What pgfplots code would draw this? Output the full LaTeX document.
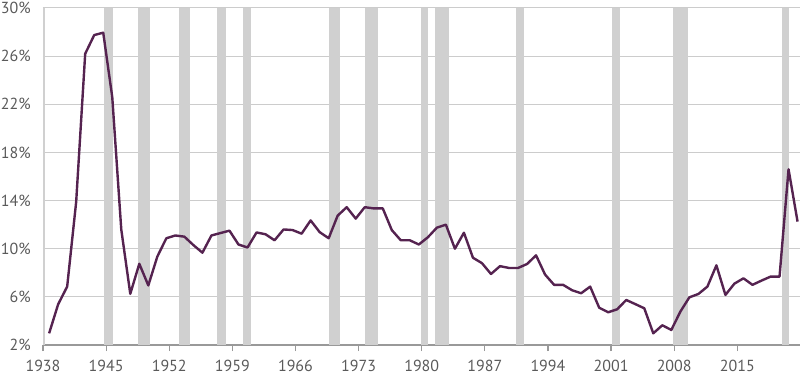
\documentclass[border=0pt]{standalone}
\usepackage{pgfplots}
\pgfplotsset{compat=1.18}
\usepackage{pgfplotstable}
\usepackage{fontspec}
\setmainfont{PT Sans}
\definecolor{linepurple}{HTML}{552350}
\definecolor{recgray}{HTML}{D0D0D0}
\definecolor{gridgray}{HTML}{CCCCCC}
\definecolor{axisgray}{HTML}{999999}
\definecolor{labelgray}{HTML}{5A5A5A}
\pgfplotstableread{
year rate
1938 2.97
1939 5.38
1940 6.85
1941 13.9
1942 26.2
1943 27.75
1944 27.95
1945 22.6
1946 11.6
1947 6.25
1948 8.75
1949 6.95
1950 9.35
1951 10.87
1952 11.1
1953 11.0
1954 10.3
1955 9.67
1956 11.1
1957 11.3
1958 11.5
1959 10.35
1960 10.1
1961 11.35
1962 11.2
1963 10.7
1964 11.6
1965 11.55
1966 11.25
1967 12.35
1968 11.38
1969 10.87
1970 12.75
1971 13.45
1972 12.5
1973 13.45
1974 13.35
1975 13.35
1976 11.55
1977 10.7
1978 10.7
1979 10.35
1980 10.95
1981 11.75
1982 12.0
1983 10.0
1984 11.33
1985 9.25
1986 8.8
1987 7.9
1988 8.55
1989 8.4
1990 8.4
1991 8.73
1992 9.45
1993 7.85
1994 7.0
1995 7.0
1996 6.55
1997 6.3
1998 6.85
1999 5.1
2000 4.72
2001 4.97
2002 5.74
2003 5.4
2004 5.05
2005 2.97
2006 3.64
2007 3.25
2008 4.77
2009 5.96
2010 6.24
2011 6.85
2012 8.62
2013 6.16
2014 7.1
2015 7.54
2016 7.0
2017 7.35
2018 7.68
2019 7.68
2020 16.6
2021 12.25
}\savingdata
\begin{document}
\begin{tikzpicture}
\begin{axis}[
  at={(0,0)}, anchor=south west,
  scale only axis, width=757bp, height=337bp,
  xmin=1938, xmax=2021.95, ymin=2, ymax=30,
  axis x line*=bottom, axis y line*=left,
  separate axis lines,
  x axis line style={draw=axisgray, line width=1.5bp},
  y axis line style={draw=none},
  xtick={1938,1945,1952,1959,1966,1973,1980,1987,1994,2001,2008,2015},
  xticklabels={1938,1945,1952,1959,1966,1973,1980,1987,1994,2001,2008,2015},
  ytick={2,6,10,14,18,22,26,30},
  yticklabels={2\%,6\%,10\%,14\%,18\%,22\%,26\%,30\%},
  ymajorgrids,
  grid style={draw=gridgray, line width=1bp},
  tick align=outside, major tick length=6bp,
  xtick style={draw=axisgray, line width=1.2bp},
  ytick style={draw=none},
  tick label style={font=\fontsize{16bp}{19bp}\selectfont, text=labelgray},
  xticklabel style={anchor=north, inner sep=0pt, yshift=-9bp},
  yticklabel style={anchor=east, inner sep=0pt, xshift=-6bp},
]
\addplot[fill=recgray, draw=none] coordinates {(1938,2) (1938,30) (1938.22,30) (1938.22,2)};
\addplot[fill=recgray, draw=none] coordinates {(1944.74,2) (1944.74,30) (1945.78,30) (1945.78,2)};
\addplot[fill=recgray, draw=none] coordinates {(1948.56,2) (1948.56,30) (1949.85,30) (1949.85,2)};
\addplot[fill=recgray, draw=none] coordinates {(1953.1,2) (1953.1,30) (1954.33,30) (1954.33,2)};
\addplot[fill=recgray, draw=none] coordinates {(1957.26,2) (1957.26,30) (1958.33,30) (1958.33,2)};
\addplot[fill=recgray, draw=none] coordinates {(1960.15,2) (1960.15,30) (1961.08,30) (1961.08,2)};
\addplot[fill=recgray, draw=none] coordinates {(1969.67,2) (1969.67,30) (1970.9,30) (1970.9,2)};
\addplot[fill=recgray, draw=none] coordinates {(1973.67,2) (1973.67,30) (1975.19,30) (1975.19,2)};
\addplot[fill=recgray, draw=none] coordinates {(1979.93,2) (1979.93,30) (1980.67,30) (1980.67,2)};
\addplot[fill=recgray, draw=none] coordinates {(1981.44,2) (1981.44,30) (1983.0,30) (1983.0,2)};
\addplot[fill=recgray, draw=none] coordinates {(1990.48,2) (1990.48,30) (1991.3,30) (1991.3,2)};
\addplot[fill=recgray, draw=none] coordinates {(2001.1,2) (2001.1,30) (2002.03,30) (2002.03,2)};
\addplot[fill=recgray, draw=none] coordinates {(2007.85,2) (2007.85,30) (2009.52,30) (2009.52,2)};
\addplot[fill=recgray, draw=none] coordinates {(2019.9,2) (2019.9,30) (2020.7,30) (2020.7,2)};
\addplot[linepurple, line width=2.4bp, line join=round, mark=none]
  table[x expr=\thisrow{year}+0.68, y=rate] {\savingdata};
\end{axis}
\pgfresetboundingbox
\path[use as bounding box] (-43bp,-31bp) rectangle (757bp,345bp);
\end{tikzpicture}
\end{document}
